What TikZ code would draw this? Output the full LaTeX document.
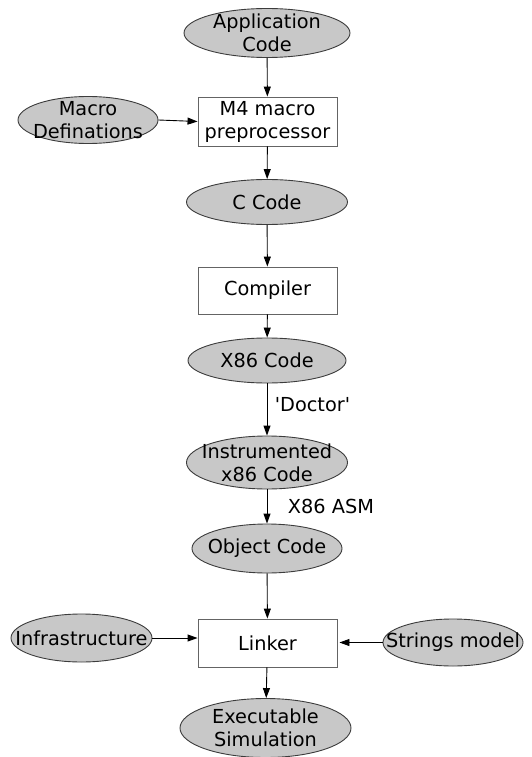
\documentclass[tikz,border=0pt]{standalone}
\usepackage{fontspec}
\newfontfamily\dvs{DejaVu Sans}[Ligatures=TeXOff]
\usetikzlibrary{arrows.meta,shapes.geometric}
\definecolor{ellfill}{RGB}{200,200,200}
\definecolor{ellline}{RGB}{60,60,60}
\definecolor{boxline}{RGB}{100,100,100}
\tikzset{
  ell/.style={ellipse,draw=ellline,fill=ellfill,line width=0.9pt,inner sep=0pt},
  procbox/.style={rectangle,draw=boxline,fill=white,line width=0.9pt,inner sep=0pt},
  txt/.style={font=\dvs\fontsize{19.3}{23}\selectfont,align=center,inner sep=0pt,text=black},
  arr/.style={line width=0.9pt,-{Triangle[length=10pt,width=7pt]}},
}
\begin{document}
\begin{tikzpicture}[x=1pt,y=-1pt]
\useasboundingbox (0,0) rectangle (531,757);
% nodes
\node[ell,minimum width=166,minimum height=49] (app) at (267,33) {};
\node[txt] at (app) {Application\\Code};
\node[procbox,minimum width=139,minimum height=49] (m4) at (267.5,121.5) {};
\node[txt] at (m4) {M4 macro\\preprocessor};
\node[ell,minimum width=140,minimum height=47] (mac) at (88,120) {};
\node[txt] at (mac) {Macro\\Definations};
\node[ell,minimum width=161,minimum height=45] (cc) at (267,202) {};
\node[txt] at (cc) {C Code};
\node[procbox,minimum width=139,minimum height=47] (comp) at (267.5,290.5) {};
\node[txt] at (comp) {Compiler};
\node[ell,minimum width=158,minimum height=45] (x86) at (267,360.5) {};
\node[txt] at (x86) {X86 Code};
\node[ell,minimum width=161,minimum height=53] (inst) at (267,462.5) {};
\node[txt] at (inst) {Instrumented\\x86 Code};
\node[ell,minimum width=150,minimum height=49] (obj) at (267,548.5) {};
\node[txt] at (obj) {Object Code};
\node[procbox,minimum width=139,minimum height=48] (link) at (267.5,643) {};
\node[txt] at (link) {Linker};
\node[ell,minimum width=141,minimum height=48] (infra) at (81.5,638) {};
\node[txt] at (infra) {Infrastructure};
\node[ell,minimum width=140,minimum height=47] (str) at (453,642.5) {};
\node[txt] at (str) {Strings model};
\node[ell,minimum width=171,minimum height=59] (exe) at (265.5,728) {};
\node[txt] at (exe) {Executable\\Simulation};
% labels
\node[txt] (ldoc) at (312.5,405) {'Doctor'};
\node[txt] (lasm) at (331,506) {X86 ASM};
% connectors
\draw[arr] (app) -- (m4);
\draw[arr] (mac.east) -- (m4.west);
\draw[arr] (m4) -- (cc);
\draw[arr] (cc) -- (comp);
\draw[arr] (comp) -- (x86);
\draw[arr] (x86) -- (inst);
\draw[arr] (inst) -- (obj);
\draw[arr] (obj) -- (link);
\draw[arr] (infra.east) -- (link.west |- infra.east);
\draw[arr,shorten >=2pt] (str.west) -- (link.east |- str.west);
\draw[arr] (link) -- (exe);
\end{tikzpicture}
\end{document}
